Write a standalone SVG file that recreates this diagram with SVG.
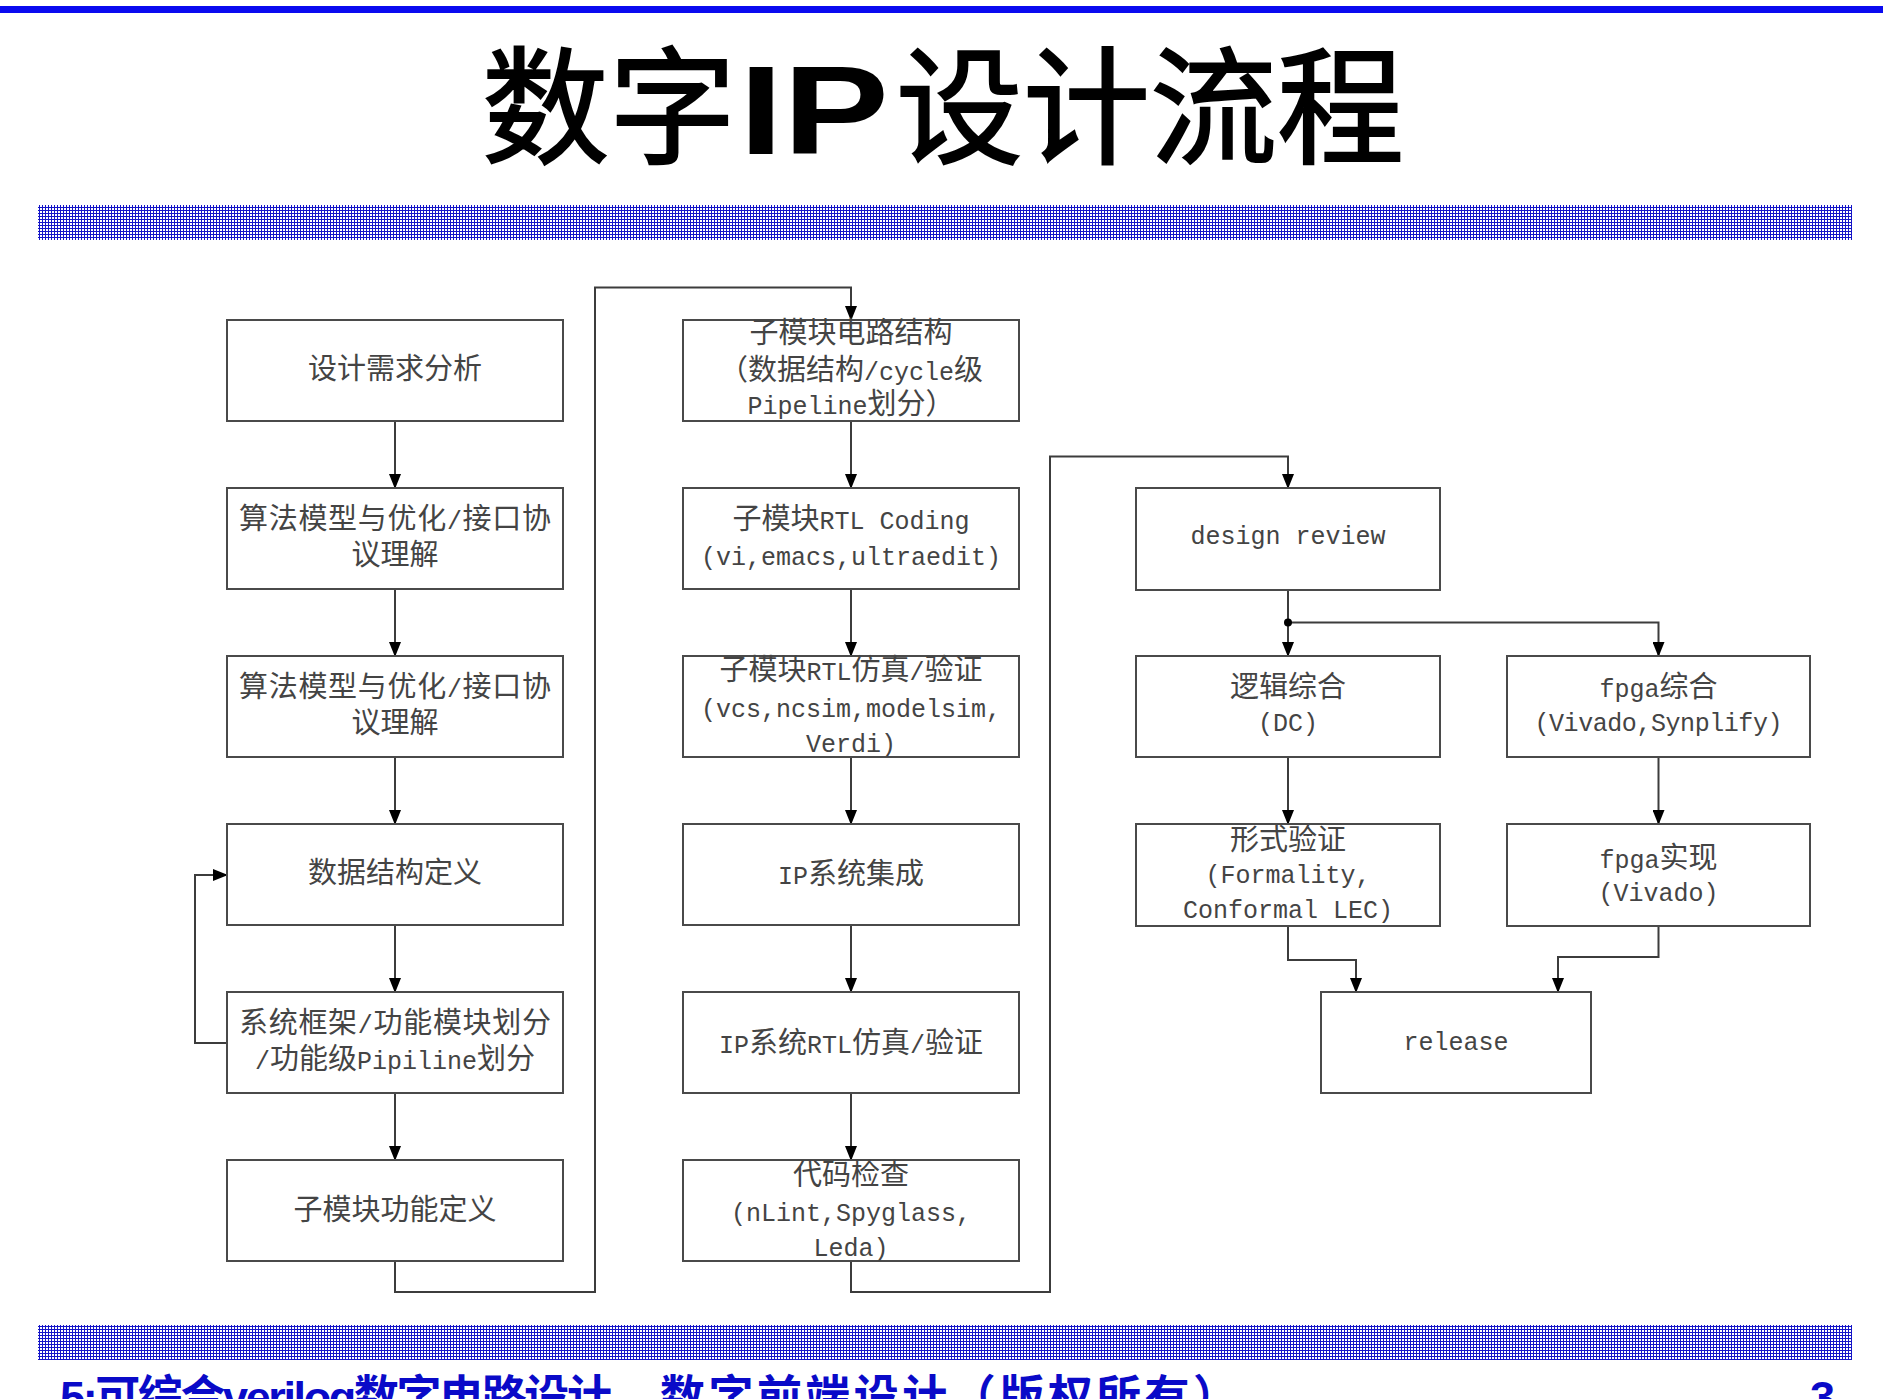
<svg xmlns="http://www.w3.org/2000/svg" width="1883" height="1399" viewBox="0 0 1883 1399">
  <defs>
    <style>
      .box rect { fill: #ffffff; stroke: #4a4a4a; stroke-width: 2; }
      .box text { font-family: "Noto Sans CJK SC", "Liberation Mono", sans-serif; font-size: 29px; fill: #444444; text-anchor: middle; }
      .box .m { font-family: "Liberation Mono", "Noto Sans CJK SC", monospace; font-size: 25px; }
      #connectors path { fill: none; stroke: #3c3c3c; stroke-width: 2; marker-end: url(#ah); }
      .foot { font-family: "Liberation Sans", "Noto Sans CJK SC", sans-serif; font-weight: bold; font-size: 45px; fill: #0a0ac8; }
    </style>
    <marker id="ah" viewBox="0 0 15 12" refX="14" refY="6" markerWidth="15" markerHeight="12" markerUnits="userSpaceOnUse" orient="auto">
      <path d="M0,0 L15,6 L0,12 z" fill="#000000"/>
    </marker>
    <pattern id="hatch" width="3" height="3" patternUnits="userSpaceOnUse">
      <rect width="3" height="3" fill="#1414c8"/>
      <rect x="1" y="1" width="2" height="2" fill="#ffffff"/>
    </pattern>
  </defs>

  <rect width="1883" height="1399" fill="#ffffff"/>

  <!-- header: top rule, title, banded divider -->
  <rect x="0" y="6" width="1883" height="7" fill="#0a0af0"/>
  <g id="title">
    <text x="482" y="154" font-family="Noto Sans CJK SC, sans-serif" font-size="127" fill="#000" stroke="#000" stroke-width="2">数字</text>
    <text x="739" y="154" font-family="Liberation Sans, Arial, sans-serif" font-weight="bold" font-size="127" textLength="150" lengthAdjust="spacingAndGlyphs" fill="#000">IP</text>
    <text x="896" y="154" font-family="Noto Sans CJK SC, sans-serif" font-size="127" fill="#000" stroke="#000" stroke-width="2">设计流程</text>
  </g>
  <rect x="38" y="205" width="1814" height="35" fill="url(#hatch)"/>

  <!-- connectors -->
  <g id="connectors">
    <path d="M395,421 V488"/>
    <path d="M395,589 V656"/>
    <path d="M395,757 V824"/>
    <path d="M395,925 V992"/>
    <path d="M395,1093 V1160"/>
    <path d="M227,1043 H195 V875 H227"/>
    <path d="M395,1261 V1292 H595 V287.5 H851 V320"/>
    <path d="M851,421 V488"/>
    <path d="M851,589 V656"/>
    <path d="M851,757 V824"/>
    <path d="M851,925 V992"/>
    <path d="M851,1093 V1160"/>
    <path d="M851,1261 V1292 H1050 V456.5 H1288 V488"/>
    <path d="M1288,590 V656"/>
    <path d="M1288,622.5 H1658.5 V656"/>
    <path d="M1288,757 V824"/>
    <path d="M1658.5,757 V824"/>
    <path d="M1288,926 V960 H1356 V992"/>
    <path d="M1658.5,926 V957 H1558 V992"/>
    <circle cx="1288" cy="622.5" r="4" fill="#000"/>
  </g>

  <!-- left column -->
  <g id="n-req" class="box">
    <rect x="227" y="320" width="336" height="101"/>
    <text x="395" y="379">设计需求分析</text>
  </g>
  <g id="n-algo1" class="box">
    <rect x="227" y="488" width="336" height="101"/>
    <text x="395" y="529" textLength="312">算法模型与优化<tspan class="m">/</tspan>接口协</text>
    <text x="395" y="565">议理解</text>
  </g>
  <g id="n-algo2" class="box">
    <rect x="227" y="656" width="336" height="101"/>
    <text x="395" y="697" textLength="312">算法模型与优化<tspan class="m">/</tspan>接口协</text>
    <text x="395" y="733">议理解</text>
  </g>
  <g id="n-data" class="box">
    <rect x="227" y="824" width="336" height="101"/>
    <text x="395" y="883">数据结构定义</text>
  </g>
  <g id="n-arch" class="box">
    <rect x="227" y="992" width="336" height="101"/>
    <text x="395" y="1033" textLength="312">系统框架<tspan class="m">/</tspan>功能模块划分</text>
    <text x="395" y="1069"><tspan class="m">/</tspan>功能级<tspan class="m">Pipiline</tspan>划分</text>
  </g>
  <g id="n-subfunc" class="box">
    <rect x="227" y="1160" width="336" height="101"/>
    <text x="395" y="1220">子模块功能定义</text>
  </g>

  <!-- middle column -->
  <g id="n-circuit" class="box">
    <rect x="683" y="320" width="336" height="101"/>
    <text x="851" y="343">子模块电路结构</text>
    <text x="851" y="380">（数据结构<tspan class="m">/cycle</tspan>级</text>
    <text x="851" y="414"><tspan class="m">Pipeline</tspan>划分）</text>
  </g>
  <g id="n-coding" class="box">
    <rect x="683" y="488" width="336" height="101"/>
    <text x="851" y="529">子模块<tspan class="m">RTL Coding</tspan></text>
    <text x="851" y="565" class="m">(vi,emacs,ultraedit)</text>
  </g>
  <g id="n-subsim" class="box">
    <rect x="683" y="656" width="336" height="101"/>
    <text x="851" y="680">子模块<tspan class="m">RTL</tspan>仿真<tspan class="m">/</tspan>验证</text>
    <text x="851" y="717" class="m">(vcs,ncsim,modelsim,</text>
    <text x="851" y="752" class="m">Verdi)</text>
  </g>
  <g id="n-integ" class="box">
    <rect x="683" y="824" width="336" height="101"/>
    <text x="851" y="884"><tspan class="m">IP</tspan>系统集成</text>
  </g>
  <g id="n-syssim" class="box">
    <rect x="683" y="992" width="336" height="101"/>
    <text x="851" y="1053"><tspan class="m">IP</tspan>系统<tspan class="m">RTL</tspan>仿真<tspan class="m">/</tspan>验证</text>
  </g>
  <g id="n-lint" class="box">
    <rect x="683" y="1160" width="336" height="101"/>
    <text x="851" y="1185">代码检查</text>
    <text x="851" y="1221" class="m">(nLint,Spyglass,</text>
    <text x="851" y="1256" class="m">Leda)</text>
  </g>

  <!-- right side -->
  <g id="n-review" class="box">
    <rect x="1136" y="488" width="304" height="102"/>
    <text x="1288" y="544" class="m">design review</text>
  </g>
  <g id="n-synth" class="box">
    <rect x="1136" y="656" width="304" height="101"/>
    <text x="1288" y="697">逻辑综合</text>
    <text x="1288" y="731" class="m">(DC)</text>
  </g>
  <g id="n-fpgasynth" class="box">
    <rect x="1507" y="656" width="303" height="101"/>
    <text x="1658.5" y="697"><tspan class="m">fpga</tspan>综合</text>
    <text x="1658.5" y="731" class="m" textLength="248">(Vivado,Synplify)</text>
  </g>
  <g id="n-formal" class="box">
    <rect x="1136" y="824" width="304" height="102"/>
    <text x="1288" y="850">形式验证</text>
    <text x="1288" y="883" class="m">(Formality,</text>
    <text x="1288" y="918" class="m">Conformal LEC)</text>
  </g>
  <g id="n-fpgaimpl" class="box">
    <rect x="1507" y="824" width="303" height="102"/>
    <text x="1658.5" y="868"><tspan class="m">fpga</tspan>实现</text>
    <text x="1658.5" y="901" class="m">(Vivado)</text>
  </g>
  <g id="n-release" class="box">
    <rect x="1321" y="992" width="270" height="101"/>
    <text x="1456" y="1050" class="m">release</text>
  </g>

  <!-- footer: banded divider and caption -->
  <rect x="38" y="1325" width="1814" height="35" fill="url(#hatch)"/>
  <text class="foot" x="60" y="1413" textLength="552">5:可综合verilog数字电路设计</text>
  <text class="foot" x="660" y="1413" textLength="578">数字前端设计（版权所有）</text>
  <text class="foot" x="1810" y="1413">3</text>
</svg>
